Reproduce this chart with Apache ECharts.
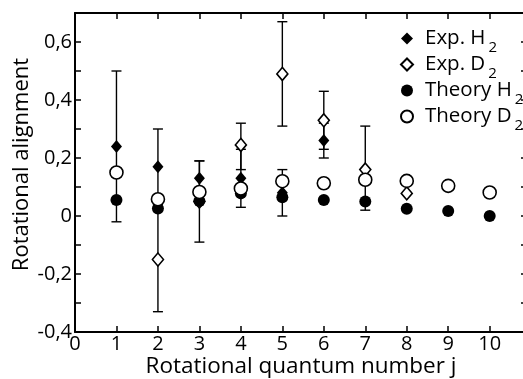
<!DOCTYPE html>
<html>
<head>
<meta charset="utf-8">
<script src="https://cdn.jsdelivr.net/npm/echarts@6/dist/echarts.min.js"></script>
<style>
html,body{margin:0;padding:0;background:#fff;}
#c{width:523px;height:379px;}
</style>
</head>
<body>
<div id="c"></div>
<script>
// ---- data ----
const expH2J   = [1, 2, 3, 4, 5, 6];
const expH2    = [0.24, 0.17, 0.13, 0.13, 0.08, 0.26];
const expH2Lo  = [-0.02, 0.04, 0.07, 0.03, 0.00, 0.20];
const expH2Hi  = [0.50, 0.30, 0.19, 0.23, 0.16, 0.32];

const expD2J   = [2, 3, 4, 5, 6, 7, 8];
const expD2    = [-0.15, 0.05, 0.245, 0.49, 0.33, 0.16, 0.078];
const expD2Lo  = [-0.33, -0.09, 0.16, 0.31, 0.23, 0.02, null];
const expD2Hi  = [0.03, 0.19, 0.32, 0.67, 0.43, 0.31, null];

const theoryJ  = [1, 2, 3, 4, 5, 6, 7, 8, 9, 10];
const theoryH2 = [0.055, 0.026, 0.052, 0.078, 0.065, 0.055, 0.05, 0.025, 0.017, 0.0];
const theoryD2 = [0.15, 0.058, 0.083, 0.095, 0.12, 0.113, 0.125, 0.121, 0.104, 0.081];

const seriesNames = ['Exp. H2', 'Exp. D2', 'Theory H2', 'Theory D2'];
const legendLabels = {
  'Exp. H2': ['Exp. H', '2'],
  'Exp. D2': ['Exp. D', '2'],
  'Theory H2': ['Theory H', '2'],
  'Theory D2': ['Theory D', '2']
};

// ---- build ----
const FONT = 'Open Sans';
const pairs = (xs, ys) => xs.map((x, i) => [x, ys[i]]);
const errData = [];
expH2J.forEach((x, i) => { if (expH2Lo[i] !== null) errData.push([x, expH2Lo[i], expH2Hi[i]]); });
expD2J.forEach((x, i) => { if (expD2Lo[i] !== null) errData.push([x, expD2Lo[i], expD2Hi[i]]); });

const chart = echarts.init(document.getElementById('c'), null, {renderer: 'canvas'});

function yFmt(v) {
  const r = Math.round(v * 10);
  if (r % 2 !== 0) return '';
  if (r === 0) return '0';
  return (r / 10).toFixed(1).replace('.', ',');
}

const axisLine = {show: true, onZero: false, lineStyle: {color: '#000', width: 2}};
const tick = {show: true, inside: true, length: 6, lineStyle: {color: '#000', width: 1.5}};

chart.setOption({
  animation: false,
  backgroundColor: '#fff',
  grid: {left: 75, top: 13, width: 452, height: 319, containLabel: false, outerBoundsMode: 'none'},
  legend: {
    data: seriesNames.map((n, i) => ({
      name: n,
      icon: i < 2 ? 'diamond' : 'circle'
    })),
    orient: 'vertical',
    left: 400,
    top: 22,
    padding: 0,
    itemWidth: 12,
    itemHeight: 12,
    itemGap: -7,
    selectedMode: false,
    formatter: n => '{a|' + legendLabels[n][0] + '}{s|' + legendLabels[n][1] + '}',
    textStyle: {
      fontFamily: FONT,
      color: '#000',
      rich: {
        a: {fontFamily: FONT, fontSize: 20.5, color: '#000', lineHeight: 24, padding: [0, 0, 0, 7]},
        s: {fontFamily: FONT, fontSize: 15, color: '#000', lineHeight: 14, padding: [18, 0, 0, 3]}
      }
    }
  },
  xAxis: [{
    type: 'value', min: 0, max: 10.9, interval: 1,
    position: 'bottom',
    name: 'Rotational quantum number j',
    nameLocation: 'middle', nameGap: 23,
    nameMoveOverlap: false,
    nameTextStyle: {fontFamily: FONT, fontSize: 22.5, color: '#000'},
    axisLine: axisLine, axisTick: tick,
    splitLine: {show: false},
    axisLabel: {fontFamily: FONT, fontSize: 20, color: '#000', margin: 2,
      formatter: v => (Math.abs(v - Math.round(v)) < 1e-6 ? String(Math.round(v)) : '')}
  }, {
    type: 'value', min: 0, max: 10.9, interval: 1,
    position: 'top',
    axisLine: axisLine, axisTick: tick,
    splitLine: {show: false},
    axisLabel: {show: false}
  }],
  yAxis: [{
    type: 'value', min: -0.4, max: 0.7, interval: 0.1,
    position: 'left',
    name: 'Rotational alignment',
    nameLocation: 'middle', nameGap: 42,
    nameMoveOverlap: false,
    nameTextStyle: {fontFamily: FONT, fontSize: 22, color: '#000', padding: [0, 0, 0, 16]},
    axisLine: axisLine, axisTick: tick,
    splitLine: {show: false},
    axisLabel: {fontFamily: FONT, fontSize: 20, color: '#000', margin: 3, formatter: yFmt}
  }, {
    type: 'value', min: -0.4, max: 0.7, interval: 0.1,
    position: 'right',
    axisLine: axisLine, axisTick: tick,
    splitLine: {show: false},
    axisLabel: {show: false}
  }],
  series: [
    {
      type: 'custom',
      name: 'err',
      xAxisIndex: 0, yAxisIndex: 0,
      data: errData,
      z: 1,
      renderItem: function (params, api) {
        const x = api.value(0);
        const lo = api.coord([x, api.value(1)]);
        const hi = api.coord([x, api.value(2)]);
        const hw = 5;
        const st = {stroke: '#000', lineWidth: 1.4};
        return {
          type: 'group',
          children: [
            {type: 'line', shape: {x1: lo[0], y1: lo[1], x2: hi[0], y2: hi[1]}, style: st},
            {type: 'line', shape: {x1: lo[0] - hw, y1: lo[1], x2: lo[0] + hw, y2: lo[1]}, style: st},
            {type: 'line', shape: {x1: hi[0] - hw, y1: hi[1], x2: hi[0] + hw, y2: hi[1]}, style: st}
          ]
        };
      }
    },
    {
      name: 'Exp. H2', type: 'scatter', z: 2,
      data: pairs(expH2J, expH2),
      symbol: 'diamond', symbolSize: [11, 13],
      itemStyle: {color: '#000', borderColor: '#000', borderWidth: 0, opacity: 1}
    },
    {
      name: 'Exp. D2', type: 'scatter', z: 3,
      data: pairs(expD2J, expD2),
      symbol: 'diamond', symbolSize: [11, 13],
      itemStyle: {color: '#fff', borderColor: '#000', borderWidth: 1.6, opacity: 1}
    },
    {
      name: 'Theory H2', type: 'scatter', z: 4,
      data: pairs(theoryJ, theoryH2),
      symbol: 'circle', symbolSize: 12,
      itemStyle: {color: '#000', borderColor: '#000', borderWidth: 0, opacity: 1}
    },
    {
      name: 'Theory D2', type: 'scatter', z: 5,
      data: pairs(theoryJ, theoryD2),
      symbol: 'circle', symbolSize: 13,
      itemStyle: {color: '#fff', borderColor: '#000', borderWidth: 1.6, opacity: 1}
    }
  ]
});
</script>
</body>
</html>
